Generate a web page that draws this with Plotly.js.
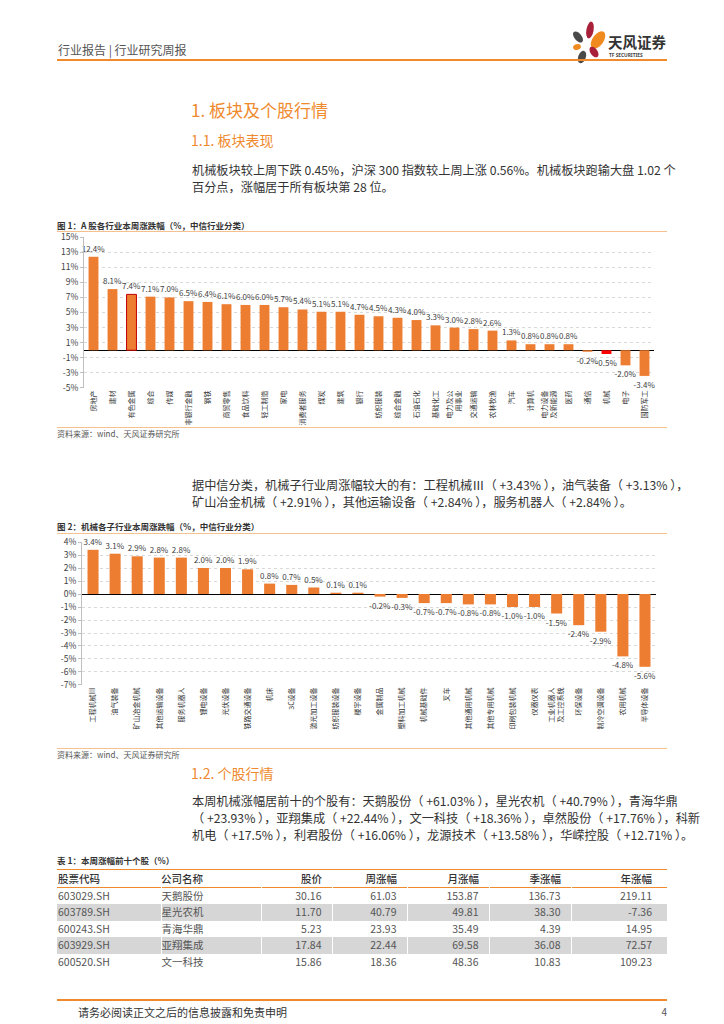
<!DOCTYPE html>
<html><head><meta charset="utf-8">
<script src="https://cdn.plot.ly/plotly-3.0.1.min.js"></script>
<style>
body{margin:0;background:#fff;font-family:"Noto Sans CJK SC","Noto Sans",sans-serif;}
#page{position:relative;width:724px;height:1024px;overflow:hidden;background:#fff;}
.a{position:absolute;white-space:nowrap;}
.hl{position:absolute;left:57px;width:610px;}
.jl{text-align:justify;text-align-last:justify;}
.p{font-size:12.2px;color:#333;left:192px;width:475px;line-height:17px;}
.cap{font-size:8.5px;font-weight:bold;color:#333;left:57px;line-height:12px;}
.src{font-size:8px;color:#555;left:57px;line-height:10px;}
table{border-collapse:collapse;}
</style></head>
<body><div id="page">
<div class="a" style="left:58px;top:42px;font-size:12px;line-height:16px;color:#555;">行业报告 | 行业研究周报</div>
<svg class="a" style="left:566px;top:18px;" width="110" height="50" viewBox="566 18 110 50">
 <ellipse cx="590" cy="30" rx="3.6" ry="8.5" fill="#a8203a" transform="rotate(10 590 30)"/>
 <ellipse cx="578" cy="37" rx="3.6" ry="6.5" fill="#4a4a4a" transform="rotate(-40 578 37)"/>
 <ellipse cx="598" cy="40" rx="5.5" ry="10" fill="#f08a1e" transform="rotate(35 598 40)"/>
 <ellipse cx="577" cy="47" rx="4" ry="2.8" fill="#f08a1e" transform="rotate(-20 577 47)"/>
 <ellipse cx="594" cy="52" rx="3.6" ry="6" fill="#a8203a" transform="rotate(-35 594 52)"/>
 <ellipse cx="582" cy="57" rx="3.8" ry="6.5" fill="#4a4a4a" transform="rotate(20 582 57)"/>
 <text x="608" y="48" font-size="14.5" font-weight="bold" fill="#333" font-family="Noto Sans CJK SC">天风证券</text>
 <text x="609" y="57" font-size="4.8" fill="#444" font-family="Noto Sans" font-weight="bold">TF SECURITIES</text>
</svg>
<div class="hl" style="top:59px;height:2px;background:#f08a2c;"></div>

<div class="a" style="left:191px;top:98px;font-size:17px;line-height:24px;color:#ef8a2e;">1. 板块及个股行情</div>
<div class="a" style="left:191px;top:130px;font-size:14px;line-height:20px;color:#ef8a2e;">1.1. 板块表现</div>
<div class="a p jl" style="top:161.5px;">机械板块较上周下跌 0.45%，沪深 300 指数较上周上涨 0.56%。机械板块跑输大盘 1.02 个</div>
<div class="a p" style="top:178.5px;">百分点，涨幅居于所有板块第 28 位。</div>

<div class="a cap" style="top:219px;">图 1：A 股各行业本周涨跌幅（%，中信行业分类）</div>
<div class="hl" style="top:231px;height:1px;background:#f6c08f;"></div>
<div class="hl" style="top:427px;height:1px;background:#f6c08f;"></div>
<div id="c1" class="a" style="left:0;top:229px;width:724px;height:198px;"></div>
<div class="a src" style="top:429px;">资料来源：wind、天风证券研究所</div>

<div class="a p jl" style="top:476.5px;">据中信分类，机械子行业周涨幅较大的有：工程机械Ⅲ（ +3.43% ），油气装备（ +3.13% ），</div>
<div class="a p" style="top:493.5px;">矿山冶金机械（ +2.91% ），其他运输设备（ +2.84% ），服务机器人（ +2.84% ）。</div>

<div class="a cap" style="top:520px;">图 2：机械各子行业本周涨跌幅（%，中信行业分类）</div>
<div class="hl" style="top:533px;height:1px;background:#f6c08f;"></div>
<div class="hl" style="top:748px;height:1px;background:#f6c08f;"></div>
<div id="c2" class="a" style="left:0;top:534px;width:724px;height:213px;"></div>
<div class="a src" style="top:750px;">资料来源：wind、天风证券研究所</div>

<div class="a" style="left:191px;top:763px;font-size:14px;line-height:20px;color:#ef8a2e;">1.2. 个股行情</div>
<div class="a p jl" style="top:792.5px;">本周机械涨幅居前十的个股有：天鹅股份（ +61.03% ），星光农机（ +40.79% ），青海华鼎</div>
<div class="a p jl" style="top:809.5px;">（ +23.93% ），亚翔集成（ +22.44% ），文一科技（ +18.36% ），卓然股份（ +17.76% ），科新</div>
<div class="a p" style="top:826.5px;">机电（ +17.5% ），利君股份（ +16.06% ），龙源技术（ +13.58% ），华嵘控股（ +12.71% ）。</div>

<div class="a cap" style="top:854px;">表 1：本周涨幅前十个股（%）</div>
<div id="tbl" class="a" style="left:57px;top:869px;width:610px;"></div>

<div class="hl" style="top:999px;height:2px;background:#f08a2c;"></div>
<div class="a" style="left:78px;top:1004px;font-size:11px;line-height:16px;color:#333;">请务必阅读正文之后的信息披露和免责申明</div>
<div class="a" style="left:655px;top:1004px;width:12px;text-align:right;font-size:10px;line-height:16px;color:#555;">4</div>
</div>
<script>
// ---- Chart 1 data ----
const industries = ["房地产","建材","有色金属","综合","传媒","非银行金融","钢铁","商贸零售","食品饮料","轻工制造","家电","消费者服务","煤炭","建筑","银行","纺织服装","综合金融","石油石化","基础化工","电力及公用事业","交通运输","农林牧渔","汽车","计算机","电力设备及新能源","医药","通信","机械","电子","国防军工"];
const industryChange = [12.4,8.1,7.4,7.1,7.0,6.5,6.4,6.1,6.0,6.0,5.7,5.4,5.1,5.1,4.7,4.5,4.3,4.0,3.3,3.0,2.8,2.6,1.3,0.8,0.8,0.8,-0.2,-0.5,-2.0,-3.4];
const industryTicks = [-5,-3,-1,1,3,5,7,9,11,13,15];
// ---- Chart 2 data ----
const subIndustries = ["工程机械Ⅲ","油气装备","矿山冶金机械","其他运输设备","服务机器人","锂电设备","光伏设备","铁路交通设备","机床","3C设备","激光加工设备","纺织服装设备","楼宇设备","金属制品","塑料加工机械","机械基础件","叉车","其他通用机械","其他专用机械","印刷包装机械","仪器仪表","工业机器人及工控系统","环保设备","制冷空调设备","农用机械","半导体设备"];
const subChange = [3.4,3.1,2.9,2.8,2.8,2.0,2.0,1.9,0.8,0.7,0.5,0.1,0.1,-0.2,-0.3,-0.7,-0.7,-0.8,-0.8,-1.0,-1.0,-1.5,-2.4,-2.9,-4.8,-5.6];
const subTicks = [-7,-6,-5,-4,-3,-2,-1,0,1,2,3,4];
// ---- Table data ----
const tableHeaders = ["股票代码","公司名称","股价","周涨幅","月涨幅","季涨幅","年涨幅"];
const stockCodes = ["603029.SH","603789.SH","600243.SH","603929.SH","600520.SH"];
const stockNames = ["天鹅股份","星光农机","青海华鼎","亚翔集成","文一科技"];
const stockPrice = ["30.16","11.70","5.23","17.84","15.86"];
const weekChg = ["61.03","40.79","23.93","22.44","18.36"];
const monthChg = ["153.87","49.81","35.49","69.58","48.36"];
const quarterChg = ["136.73","38.30","4.39","36.08","10.83"];
const yearChg = ["219.11","-7.36","14.95","72.57","109.23"];

const FONT = "Noto Sans CJK SC, Noto Sans, sans-serif";
const ORANGE = "#ED7D31";

function wrapLabel(s, maxLen){
  if (s.length <= maxLen) return s;
  const half = Math.ceil(s.length/2);
  return s.slice(0, half) + "<br>" + s.slice(half);
}

function chart(id, cats, vals, ticks, opts){
  const colors = cats.map(c => c === opts.redCat ? "#FF0000" : ORANGE);
  const lines = cats.map(c => c === opts.outlineCat ? "#C00000" : "rgba(0,0,0,0)");
  const trace = {
    type:"bar", x:cats, y:vals,
    marker:{color:colors, line:{color:lines, width:1}},
    texttemplate:"%{y:.1f}%", textposition:"outside", cliponaxis:false,
    constraintext:"none",
    textfont:{family:FONT, size:opts.tsize, color:"#404040"},
    hoverinfo:"skip"
  };
  const lo = ticks[0], hi = ticks[ticks.length-1];
  const layout = {
    width:724, height:opts.h,
    margin:{l:opts.l, r:opts.r, t:opts.t, b:opts.b, pad:0},
    paper_bgcolor:"rgba(0,0,0,0)", plot_bgcolor:"rgba(0,0,0,0)",
    bargap:opts.gap, showlegend:false,
    font:{family:FONT, color:"#404040"},
    xaxis:{type:"category", tickangle:-90, showgrid:false, showline:false, ticks:"",
      tickmode:"array", tickvals:cats, ticktext:cats.map(c => wrapLabel(c, opts.maxLen)),
      tickfont:{family:FONT, size:opts.xsize, color:"#333"}, automargin:false, fixedrange:true},
    yaxis:{range:[lo-0.001, hi+0.001], tickmode:"array", tickvals:ticks, ticktext:ticks.map(v => v + "%"),
      showgrid:true, gridcolor:"#d9d9d9", griddash:"dot", gridwidth:1,
      zeroline:true, zerolinecolor:"#000", zerolinewidth:1,
      showline:true, linecolor:"#bfbfbf", linewidth:1, ticks:"outside", ticklen:3, tickcolor:"#bfbfbf",
      tickfont:{family:FONT, size:8.5, color:"#404040"}, automargin:false, fixedrange:true}
  };
  Plotly.newPlot(id, [trace], layout, {staticPlot:true, displayModeBar:false});
}

chart("c1", industries, industryChange, industryTicks, {h:198, l:84, r:70, t:8, b:39,
  gap:0.48, tsize:8, xsize:7, maxLen:5, redCat:"机械", outlineCat:"有色金属"});
chart("c2", subIndustries, subChange, subTicks, {h:213, l:82, r:68, t:8, b:62,
  gap:0.5, tsize:8, xsize:7, maxLen:8, redCat:null, outlineCat:null});

// ---- Table ----
(function(){
  const cols = [stockCodes, stockNames, stockPrice, weekChg, monthChg, quarterChg, yearChg];
  const widths = [104, 100, 71, 75, 82, 82, 96];
  const pads = [0, 0, 10, 10, 10, 10, 15];
  const aligns = ["left","left","right","right","right","right","right"];
  let h = '<table style="width:610px;font-size:10.5px;color:#555;table-layout:fixed;">';
  h += '<colgroup>' + widths.map(w=>'<col style="width:'+w+'px">').join('') + '</colgroup>';
  h += '<tr style="height:18px;border-top:1.5px solid #f08a2c;border-bottom:1.5px solid #f08a2c;">';
  tableHeaders.forEach((t,i)=>{ h += '<td style="padding:0 '+pads[i]+'px 0 '+(i===0?"1px":"0")+';text-align:'+aligns[i]+';color:#333;font-size:10.5px;font-weight:500;">'+t+'</td>'; });
  h += '</tr>';
  for(let r=0;r<stockCodes.length;r++){
    const bg = r%2===1 ? "#d6d6d6" : "#fff";
    h += '<tr style="height:16.5px;background:'+bg+';">';
    cols.forEach((c,i)=>{ h += '<td style="padding:0 '+pads[i]+'px 0 '+(i===0?"1px":"0")+';text-align:'+aligns[i]+';border-right:'+(i<6?"1px solid #fff":"none")+';line-height:16px;">'+c[r]+'</td>'; });
    h += '</tr>';
  }
  h += '</table>';
  document.getElementById("tbl").innerHTML = h;
})();
</script>
</body></html>
